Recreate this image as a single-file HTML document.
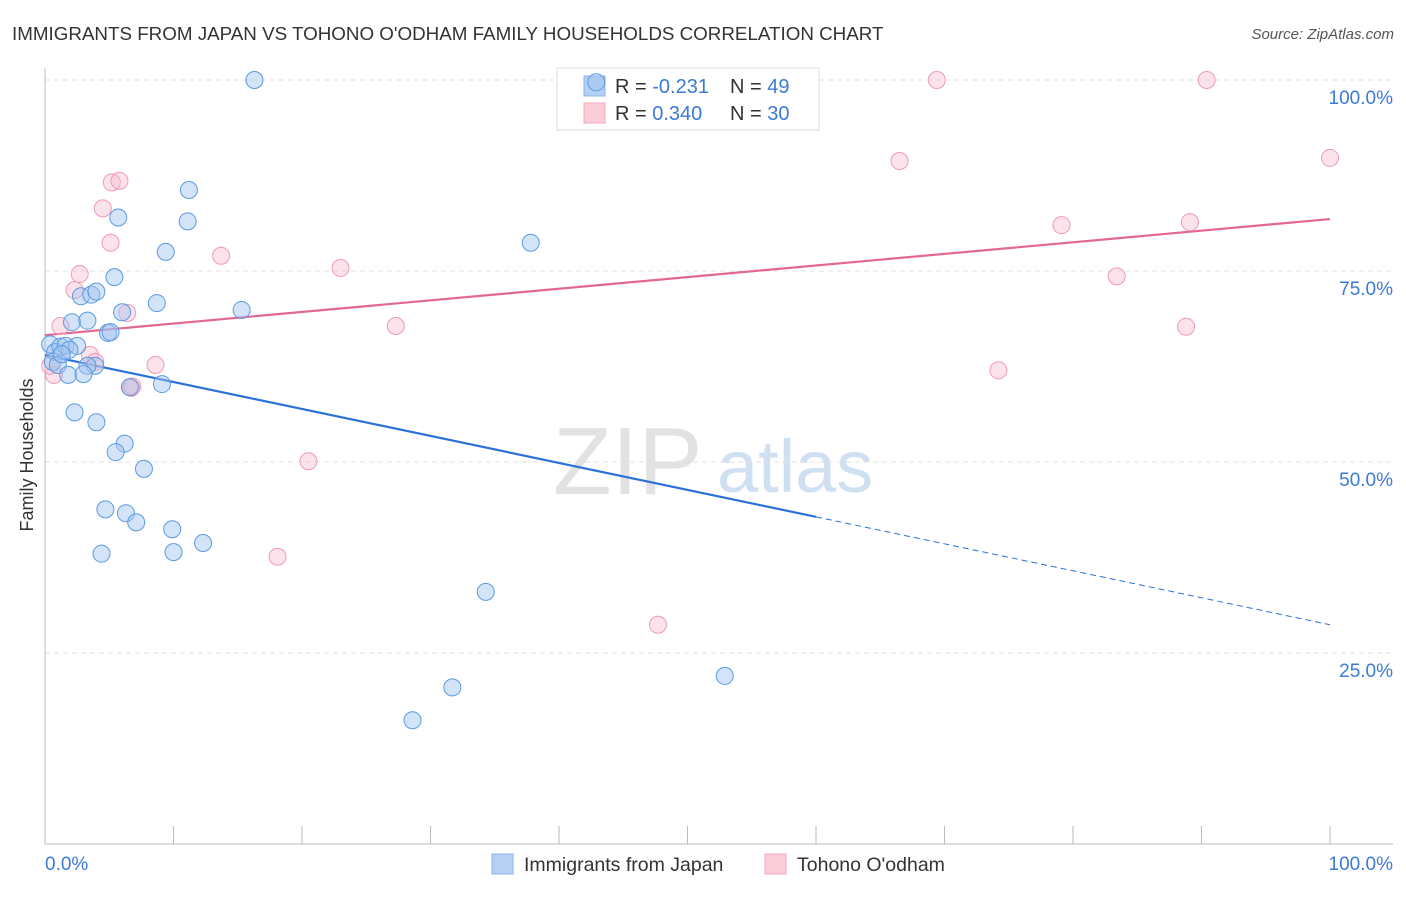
<!DOCTYPE html>
<html><head><meta charset="utf-8"><style>
body{margin:0;background:#fff;font-family:"Liberation Sans",sans-serif;}
svg text{font-family:"Liberation Sans",sans-serif;}
</style></head><body>
<svg id="chart" width="1406" height="892">
<text x="12" y="40" font-size="18.8" fill="#333">IMMIGRANTS FROM JAPAN VS TOHONO O'ODHAM FAMILY HOUSEHOLDS CORRELATION CHART</text>
<text x="1394" y="39" font-size="15" fill="#555" font-style="italic" text-anchor="end">Source: ZipAtlas.com</text>
<g>
<text x="553" y="494" font-size="96" font-family="Liberation Serif" fill="#e2e2e2">ZIP</text>
<text x="717" y="492" font-size="74" fill="#cfe0f3">atlas</text>
</g>
<g id="grid"></g>
<g id="axes"></g>
<g>
<rect x="557" y="68" width="262" height="62" fill="#fff" stroke="#ddd"/>
<rect x="584" y="76" width="21" height="20" fill="#b5d0f3" stroke="#8bb4e8"/>
<rect x="584" y="103" width="21" height="20" fill="#fbcdd9" stroke="#f3a7bd"/>
<text x="615" y="93" font-size="20" fill="#333">R = <tspan fill="#3a7bd5">-0.231</tspan><tspan x="730">N = </tspan><tspan fill="#3a7bd5">49</tspan></text>
<text x="615" y="120" font-size="20" fill="#333">R = <tspan fill="#3a7bd5"> 0.340</tspan><tspan x="730">N = </tspan><tspan fill="#3a7bd5">30</tspan></text>
</g>
<g id="lines"></g>
<g id="points"></g>
<text x="33" y="455" font-size="18" fill="#333" text-anchor="middle" transform="rotate(-90 33 455)">Family Households</text>
<text x="45" y="870" font-size="19" fill="#3a7bd5">0.0%</text>
<text x="1393" y="870" font-size="19" fill="#3a7bd5" text-anchor="end">100.0%</text>
<g>
<rect x="492" y="854" width="21" height="20" fill="#b5d0f3" stroke="#8bb4e8"/>
<text x="524" y="871" font-size="19.5" fill="#333">Immigrants from Japan</text>
<rect x="765" y="854" width="21" height="20" fill="#fbcdd9" stroke="#f3a7bd"/>
<text x="797" y="871" font-size="19.5" fill="#333">Tohono O'odham</text>
</g>
</svg>
<script>
const yTicks=[25,50,75,100];
const yTickLabels=["25.0%","50.0%","75.0%","100.0%"];
const xTicks=[0,10,20,30,40,50,60,70,80,90,100];
const blueX=[16.3,42.9,11.2,5.7,11.1,9.4,37.8,5.4,2.8,3.6,4.0,8.7,15.3,6.0,4.9,5.1,2.1,3.3,0.4,0.8,1.2,1.6,2.5,1.9,0.6,1.0,1.3,3.9,3.3,1.8,3.0,9.1,6.6,2.3,4.0,6.2,5.5,7.7,4.7,6.3,7.1,9.9,12.3,4.4,10.0,34.3,31.7,28.6,52.9];
const blueY=[100,99.7,85.6,82.0,81.5,77.5,78.7,74.2,71.7,71.9,72.3,70.8,69.9,69.6,66.9,67.0,68.3,68.5,65.4,64.4,65.1,65.2,65.2,64.7,63.1,62.7,64.1,62.6,62.6,61.4,61.5,60.2,59.8,56.5,55.2,52.4,51.3,49.1,43.8,43.3,42.1,41.2,39.4,38.0,38.2,33.0,20.5,16.2,22.0];
const pinkX=[69.4,90.4,100,66.5,5.2,5.8,4.5,5.1,13.7,79.1,89.1,2.7,23.0,2.3,83.4,1.2,27.3,88.8,6.4,3.5,3.9,8.6,6.7,74.2,0.7,0.4,20.5,18.1,47.7,6.8];
const pinkY=[100,100,89.8,89.4,86.6,86.8,83.2,78.7,77.0,81.0,81.4,74.6,75.4,72.5,74.3,67.8,67.8,67.7,69.5,64.0,63.1,62.7,59.7,62.0,61.4,62.6,50.1,37.6,28.7,59.9];
const blueTrend=[64.0,28.7];
const blueSolidEnd=60;
const pinkTrend=[66.6,81.8];

const X=v=>45+v*12.85, Y=v=>844-v*7.64;
const NS="http://www.w3.org/2000/svg";
function mk(tag,attrs,parent){const e=document.createElementNS(NS,tag);for(const k in attrs)e.setAttribute(k,attrs[k]);document.getElementById(parent).appendChild(e);return e;}
yTicks.forEach((t,i)=>{
 const l=mk('line',{x1:45,x2:1393,y1:Y(t),y2:Y(t),stroke:'#e0e0e0','stroke-dasharray':'5,4'},'grid');
 
 
 const tx=mk('text',{x:1393,y:Y(t)+24,'font-size':19,fill:'#3a7bd5','text-anchor':'end'},'grid');
 tx.textContent=yTickLabels[i];
 
 
});
let a=mk('line',{x1:45,x2:45,y1:68,y2:844,stroke:'#bbb'},'axes');


a=mk('line',{x1:45,x2:1393,y1:844,y2:844,stroke:'#bbb'},'axes');


xTicks.forEach(t=>{
 const l=mk('line',{x1:X(t),x2:X(t),y1:826,y2:844,stroke:'#bbb'},'axes');
 
 
});
const by=x=>blueTrend[0]+(blueTrend[1]-blueTrend[0])*x/100;
const py=x=>pinkTrend[0]+(pinkTrend[1]-pinkTrend[0])*x/100;
let tl=mk('line',{x1:X(0),y1:Y(py(0)),x2:X(100),y2:Y(py(100)),stroke:'#e4678f','stroke-width':2.2},'lines');


tl=mk('line',{x1:X(0),y1:Y(by(0)),x2:X(blueSolidEnd),y2:Y(by(blueSolidEnd)),stroke:'#2a72d8','stroke-width':2.2},'lines');


tl=mk('line',{x1:X(blueSolidEnd),y1:Y(by(blueSolidEnd)),x2:X(100),y2:Y(by(100)),stroke:'#2a72d8','stroke-width':1,'stroke-dasharray':'6,4'},'lines');


pinkX.forEach((x,i)=>{
 const c=mk('circle',{cx:X(x),cy:Y(pinkY[i]),r:8.5,fill:'rgba(248,184,204,0.4)',stroke:'#f09ab4','stroke-width':1},'points');
 
 
});
blueX.forEach((x,i)=>{
 const c=mk('circle',{cx:X(x),cy:Y(blueY[i]),r:8.5,fill:'rgba(160,196,240,0.45)',stroke:'#5b9be2','stroke-width':1},'points');
 
 
});
</script>
</body></html>
